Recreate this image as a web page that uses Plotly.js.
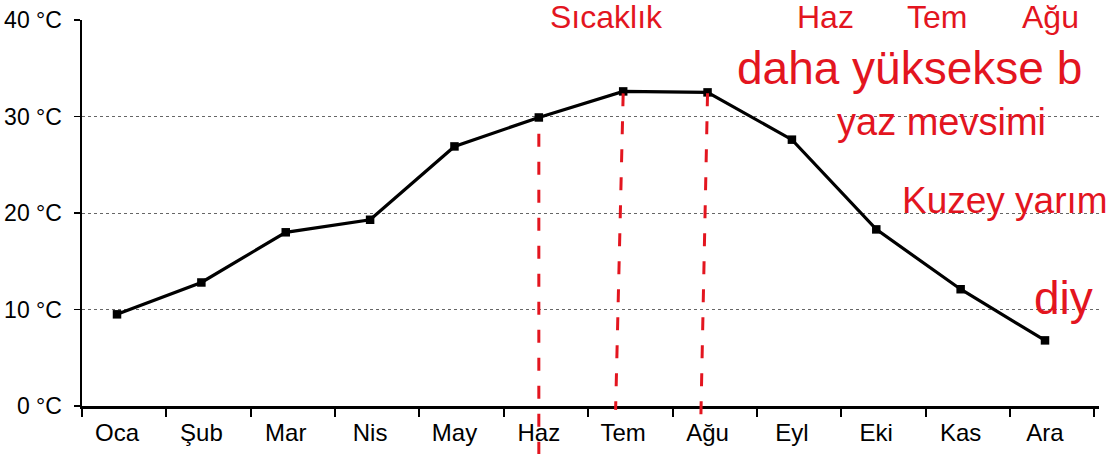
<!DOCTYPE html>
<html><head><meta charset="utf-8">
<script src="https://cdn.plot.ly/plotly-3.0.1.min.js"></script>
<style>html,body{margin:0;padding:0;background:#fff}</style>
</head><body>
<div id="chart" style="width:1109px;height:454px"></div>
<script>
const months = ["Oca","Şub","Mar","Nis","May","Haz","Tem","Ağu","Eyl","Eki","Kas","Ara"];
const temps = [9.5, 12.8, 18.0, 19.3, 26.9, 29.9, 32.6, 32.5, 27.6, 18.3, 12.1, 6.8];
const yTickVals = [0, 10, 20, 30, 40];
const yTickText = ["0 °C", "10 °C", "20 °C", "30 °C", "40 °C"];
const markedMonths = ["Haz", "Tem", "Ağu"];
const noteWords = ["Sıcaklık", "Haz", "Tem", "Ağu", "daha yüksekse b", "yaz mevsimi", "Kuzey yarım", "diy"];

const W = 1109, H = 454, L = 82, R = 10, T = 20, B = 48;
const px = x => (x - L) / (W - L - R);
const py = y => (H - B - y) / (H - T - B);
const xr = [-0.415, 11.64];
const idx = months.map((_, i) => i);
const red = '#e3151f';

const trace = {
  type: 'scatter', mode: 'lines+markers', x: idx, y: temps,
  line: {color: '#000', width: 3.2},
  marker: {symbol: 'square', size: 8.5, color: '#000'},
  hoverinfo: 'skip', showlegend: false, cliponaxis: false
};
const dummy = {type: 'scatter', x: [null], y: [null], xaxis: 'x2', showlegend: false, hoverinfo: 'skip'};

// red dashed guide lines at the summer months
const dashEnds = {"Haz": [28.2, -0.125, 0], "Tem": [32.4, -0.01, -0.09], "Ağu": [32.4, -0.035, -0.08]};
const shapes = markedMonths.map(m => {
  const i = months.indexOf(m);
  const [top, bottom, slant] = dashEnds[m];
  return {type: 'line', xref: 'x', yref: 'paper', x0: i, x1: i + slant,
    y0: top / 40, y1: bottom, line: {color: red, width: 3, dash: '13px,15px'}};
});

// [left x, centre y, font size] in page pixels
const notePos = [[548, 17, 32], [795, 17, 32], [905, 17, 32], [1020, 17, 32],
                 [735, 68, 46], [835, 122, 38], [900, 200, 37], [1032, 298, 46]];
const annotations = noteWords.map((t, k) => ({
  text: t, xref: 'paper', yref: 'paper', x: px(notePos[k][0]), y: py(notePos[k][1]),
  xanchor: 'left', yanchor: 'middle', showarrow: false,
  font: {family: 'Liberation Sans, Arial, sans-serif', size: notePos[k][2], color: red}
}));

const layout = {
  width: W, height: H,
  margin: {l: L, r: R, t: T, b: B, pad: 0},
  paper_bgcolor: '#fff', plot_bgcolor: '#fff',
  font: {family: 'Liberation Sans, Arial, sans-serif', color: '#000'},
  xaxis: {
    type: 'linear', range: xr, tickmode: 'array', tickvals: idx, ticktext: months,
    ticks: '', showgrid: false, zeroline: false, showline: true,
    linecolor: '#000', linewidth: 2.5, tickfont: {size: 24, color: '#000'},
    ticklabelstandoff: 4, fixedrange: true
  },
  xaxis2: {
    type: 'linear', overlaying: 'x', anchor: 'y', side: 'bottom', range: xr,
    tickmode: 'array', tickvals: months.map((_, i) => i - 0.415).concat([months.length - 0.415]),
    ticks: 'outside', ticklen: 10, tickwidth: 2, tickcolor: '#000',
    showticklabels: false, showgrid: false, zeroline: false, showline: false
  },
  yaxis: {
    range: [0, 40], tickmode: 'array', tickvals: yTickVals, ticktext: yTickText,
    ticks: 'outside', ticklen: 6, tickwidth: 1.5, tickcolor: '#000',
    showline: true, linecolor: '#000', linewidth: 2.5,
    showgrid: true, gridcolor: '#666', gridwidth: 1, griddash: 'dot',
    zeroline: false, tickfont: {size: 23, color: '#000'}, ticklabelstandoff: 7
  },
  shapes: shapes, annotations: annotations, showlegend: false
};
Plotly.newPlot('chart', [trace, dummy], layout, {displayModeBar: false, staticPlot: true});
</script>
</body></html>
